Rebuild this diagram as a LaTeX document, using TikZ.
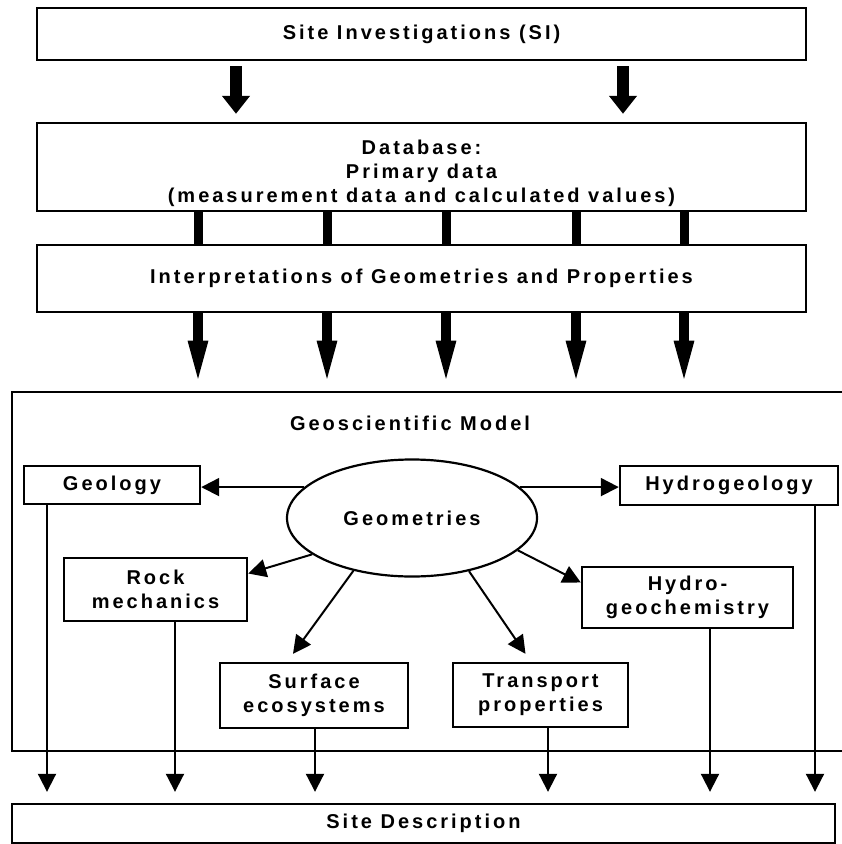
\documentclass[tikz,border=0pt]{standalone}
\usepackage{fontspec}
\setmainfont{Liberation Sans}[LetterSpace=15]
\usetikzlibrary{arrows.meta, shapes.geometric, positioning, calc}

\begin{document}
\begin{tikzpicture}[x=1pt, y=-1pt,
    font=\fontsize{20}{24}\selectfont\bfseries,
    box/.style={draw, line width=2.4pt, inner sep=0pt, align=center},
    fatarrow/.style={line width=12pt, shorten <=5pt, shorten >=8pt, -{Triangle[width=27pt, length=18pt]}},
    bar/.style={line width=9pt},
    longarrow/.style={line width=10pt, shorten >=2pt, -{Triangle[width=17pt, length=48pt]}},
    thinarrow/.style={line width=2pt, -{Triangle[width=18pt, length=18pt]}}]
  \useasboundingbox (0,0) rectangle (842,844);

  % main chain
  \node[box, minimum width=769pt, minimum height=52pt] (si) at (421.5, 34) {Site Investigations (SI)};
  \node[box, minimum width=769pt, minimum height=88pt,
    label={[align=center, yshift=-6pt]center:Database:\\Primary data\\(measurement data and calculated values)}] (db) at (421.5, 167) {};
  \node[box, minimum width=769pt, minimum height=67pt] (ip) at (421.5, 278.5)
    {Interpretations of Geometries and Properties};
  \node[draw, line width=2.8pt, minimum width=833pt, minimum height=359pt] (gm) at (428.5, 571.5) {};
  \node[box, minimum width=823pt, minimum height=39pt] (sd) at (423.5, 823.5) {Site Description};

  \foreach \x in {236, 623}
    \draw[fatarrow] (si.south -| \x,0) -- (db.north -| \x,0);
  \foreach \x in {198, 327, 446, 576, 684} {
    \draw[bar] (db.south -| \x,0) -- (ip.north -| \x,0);
    \draw[longarrow] (ip.south -| \x,0) -- (gm.north -| \x,0);
  }

  % inside the model
  \node (gmtitle) at (410, 423) {Geoscientific Model};
  \node[ellipse, draw, line width=2.2pt, minimum width=250pt, minimum height=117pt, inner sep=0pt] (geom) at (412, 518) {Geometries};
  \node[box, minimum width=176pt, minimum height=38pt] (geology) at (112, 485) {Geology};
  \node[box, minimum width=218pt, minimum height=39pt] (hydro) at (729, 485.5) {Hydrogeology};
  \node[box, minimum width=183pt, minimum height=63pt] (rock) at (155.5, 589.5) {Rock\\mechanics};
  \node[box, minimum width=211pt, minimum height=61pt] (hgc) at (687.5, 597.5) {Hydro-\\geochemistry};
  \node[box, minimum width=188pt, minimum height=65pt] (surf) at (314, 695.5) {Surface\\ecosystems};
  \node[box, minimum width=175pt, minimum height=64pt] (trans) at (540.5, 695) {Transport\\properties};

  \draw[thinarrow] (geom.164) -- (geom.164 -| geology.east);
  \draw[thinarrow] (geom.16) -- (geom.16 -| hydro.west);
  \draw[thinarrow] (geom.200) -- ([yshift=16pt]rock.east);
  \draw[thinarrow] (geom.222) -- ([xshift=-21pt, yshift=8pt]surf.north);
  \draw[thinarrow] (geom.317) -- ([xshift=-15pt, yshift=8pt]trans.north);
  \draw[thinarrow] (geom.343) -- ([yshift=15pt]hgc.west);

  \foreach \n/\x in {geology/47, rock/175, surf/315, trans/548, hgc/710, hydro/815}
    \draw[thinarrow, shorten >=11pt] (\n.south -| \x,0) -- (sd.north -| \x,0);
\end{tikzpicture}
\end{document}
